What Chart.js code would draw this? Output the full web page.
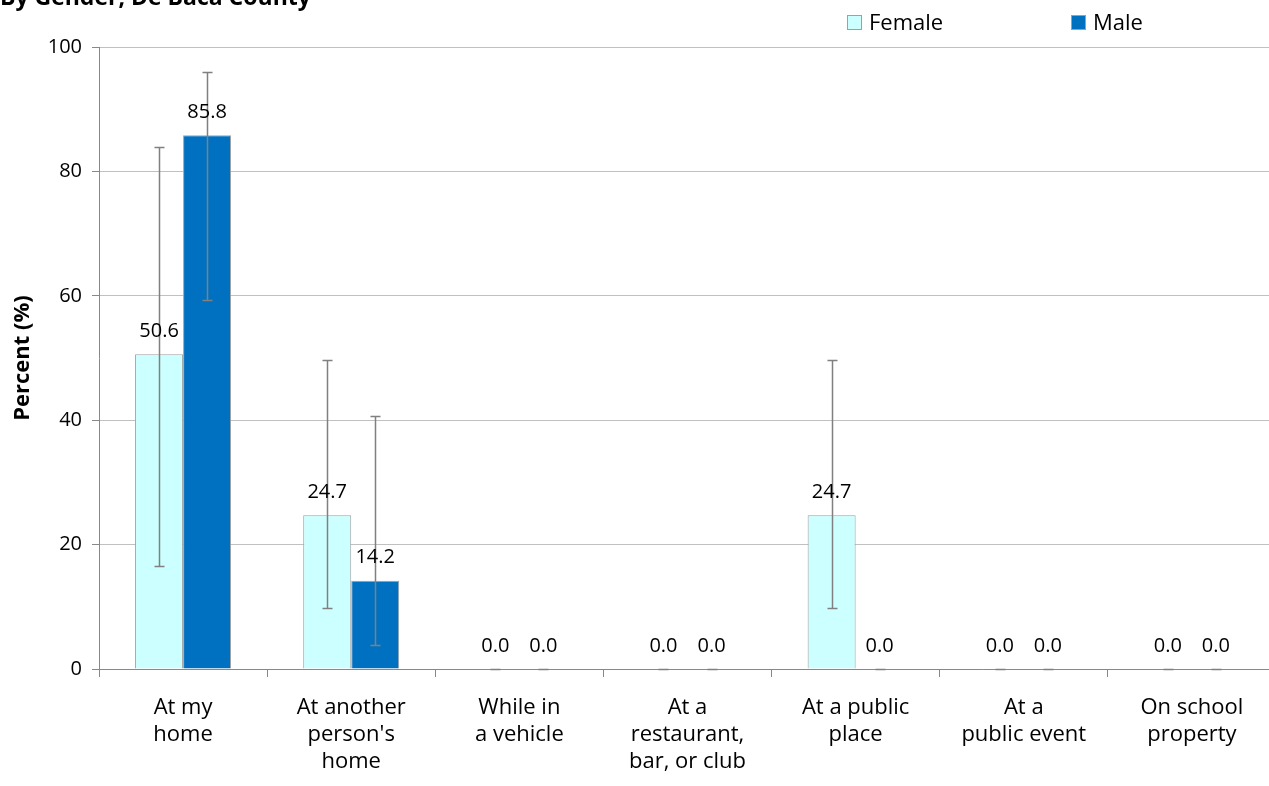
<!DOCTYPE html>
<html><head><meta charset="utf-8">
<script src="https://cdn.jsdelivr.net/npm/chart.js@4/dist/chart.umd.min.js"></script>
<style>html,body{margin:0;padding:0;background:#fff;overflow:hidden}#wrap{width:1276px;height:786px}</style>
</head><body><div id="wrap"><canvas id="c" width="1276" height="786"></canvas></div>
<script>
const categories = [["At my","home"],["At another","person's","home"],["While in","a vehicle"],["At a","restaurant,","bar, or club"],["At a public","place"],["At a","public event"],["On school","property"]];
const female = [50.6, 24.7, 0.0, 0.0, 24.7, 0.0, 0.0];
const male = [85.8, 14.2, 0.0, 0.0, 0.0, 0.0, 0.0];
const femaleLow = [16.5, 9.8, 0, 0, 9.8, 0, 0];
const femaleHigh = [84.0, 49.7, 0, 0, 49.7, 0, 0];
const maleLow = [59.4, 3.9, 0, 0, 0, 0, 0];
const maleHigh = [96.0, 40.6, 0, 0, 0, 0, 0];
const yTicks = [0, 20, 40, 60, 80, 100];
const titleText = "By Gender, De Baca County";
const yTitle = "Percent (%)";

const FONT = "'Open Sans', sans-serif";

const extras = {
  id: 'extras',
  afterDatasetsDraw(chart) {
    const ctx = chart.ctx;
    const y = chart.scales.y;
    const lows = [femaleLow, maleLow], highs = [femaleHigh, maleHigh];
    ctx.save();
    // error bars
    chart.data.datasets.forEach((ds, di) => {
      const meta = chart.getDatasetMeta(di);
      meta.data.forEach((bar, i) => {
        const x = Math.round(bar.x) + 0.5;
        const yl = Math.round(y.getPixelForValue(lows[di][i])) + 0.5;
        const yh = Math.round(y.getPixelForValue(highs[di][i])) + 0.5;
        ctx.strokeStyle = '#808080';
        ctx.lineWidth = 1.5;
        ctx.beginPath();
        ctx.moveTo(x, yl); ctx.lineTo(x, yh);
        ctx.moveTo(x - 5, yl); ctx.lineTo(x + 5, yl);
        ctx.moveTo(x - 5, yh); ctx.lineTo(x + 5, yh);
        ctx.stroke();
      });
    });
    // data labels
    ctx.fillStyle = '#000';
    ctx.font = "20px " + FONT;
    ctx.textAlign = 'center';
    ctx.textBaseline = 'middle';
    chart.data.datasets.forEach((ds, di) => {
      const meta = chart.getDatasetMeta(di);
      meta.data.forEach((bar, i) => {
        ctx.fillText(ds.data[i].toFixed(1), bar.x, bar.y - 23);
      });
    });
    // title
    ctx.textAlign = 'left';
    ctx.textBaseline = 'alphabetic';
    ctx.font = "bold 23px " + FONT;
    ctx.fillText(titleText, 0, 5);
    // legend
    ctx.font = "22px " + FONT;
    ctx.textBaseline = 'middle';
    const items = [[847, '#ccffff', 'Female'], [1071, '#0070c0', 'Male']];
    items.forEach(([lx, col, t]) => {
      ctx.fillStyle = col;
      ctx.fillRect(lx, 15, 15, 15);
      ctx.strokeStyle = '#a0a0a0';
      ctx.lineWidth = 1;
      ctx.strokeRect(lx + 0.5, 15.5, 14, 14);
      ctx.fillStyle = '#000';
      ctx.fillText(t, lx + 22, 24);
    });
    ctx.restore();
  }
};

new Chart(document.getElementById('c'), {
  type: 'bar',
  data: {
    labels: categories,
    datasets: [
      {label: 'Female', data: female, backgroundColor: '#ccffff', borderColor: '#a0a0a0', borderWidth: 1, barPercentage: 1.0, categoryPercentage: 0.571},
      {label: 'Male', data: male, backgroundColor: '#0070c0', borderColor: '#a0a0a0', borderWidth: 1, barPercentage: 1.0, categoryPercentage: 0.571}
    ]
  },
  options: {
    responsive: false,
    animation: false,
    layout: {padding: {left: 0, right: 0, top: 47, bottom: 0}},
    plugins: {legend: {display: false}, tooltip: {enabled: false}},
    scales: {
      x: {
        grid: {display: true, drawOnChartArea: false, offset: true, tickLength: 8, color: '#888'},
        border: {color: '#888', width: 1},
        ticks: {color: '#000', font: {family: FONT, size: 22, lineHeight: 1.23}, padding: 17, maxRotation: 0, autoSkip: false},
        afterFit(s) { s.height = 117; }
      },
      y: {
        min: 0, max: 100,
        afterBuildTicks(s) { s.ticks = yTicks.map(v => ({value: v})); },
        grid: {color: '#c0c0c0', tickLength: 7, tickColor: '#888'},
        border: {color: '#888', width: 1},
        ticks: {color: '#000', font: {family: FONT, size: 20}, padding: 10},
        title: {display: true, text: yTitle, color: '#000', font: {family: FONT, size: 22, weight: 'bold'}, padding: {top: 10, bottom: 0}},
        afterFit(s) { s.width = 99; }
      }
    }
  },
  plugins: [extras]
});
</script></body></html>
